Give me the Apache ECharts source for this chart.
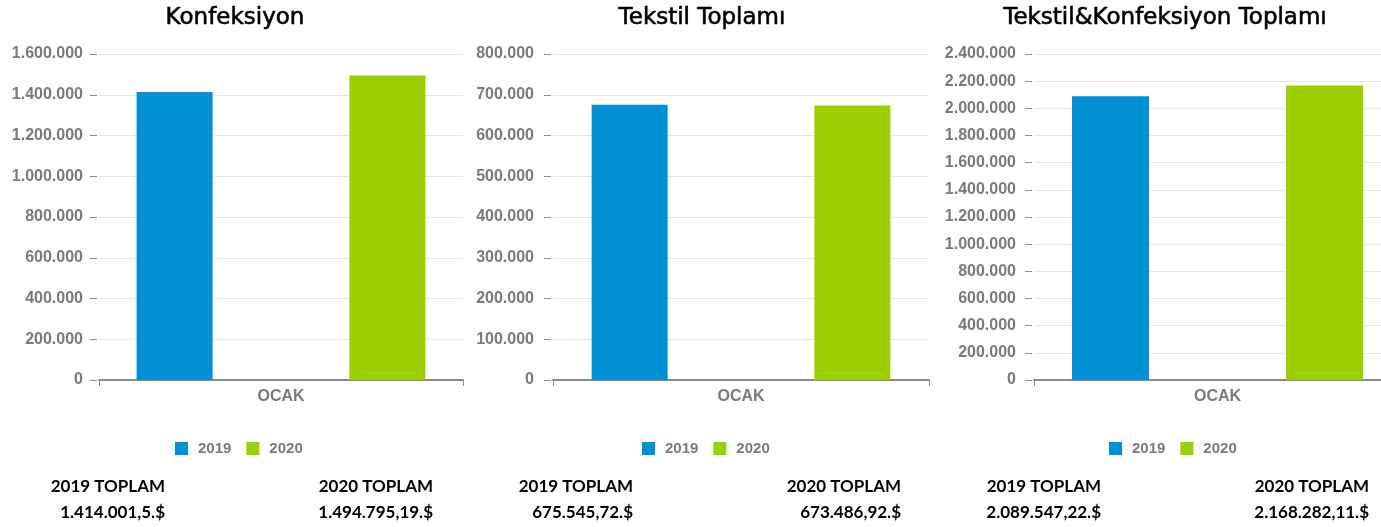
<!DOCTYPE html>
<html>
<head>
<meta charset="utf-8">
<script src="https://cdn.jsdelivr.net/npm/echarts@6/dist/echarts.min.js"></script>
<style>
  html, body { margin: 0; padding: 0; background: #fff; }
  #chart { width: 1381px; height: 527px; }
</style>
</head>
<body>
<div id="chart"></div>
<script>
// veriler
var categories = ['OCAK'];
var seriesNames = ['2019', '2020'];
var panelTitles = ['Konfeksiyon', 'Tekstil Toplamı', 'Tekstil&Konfeksiyon Toplamı'];
var values2019 = [1414001.5, 675545.72, 2089547.22];
var values2020 = [1494795.19, 673486.92, 2168282.11];
var axisMax = [1600000, 800000, 2400000];
var axisInterval = [200000, 100000, 200000];
var totalLabels2019 = ['1.414.001,5.$', '675.545,72.$', '2.089.547,22.$'];
var totalLabels2020 = ['1.494.795,19.$', '673.486,92.$', '2.168.282,11.$'];

var colors = ['#0090d5', '#9ccf00'];
var panelX = [0, 468, 936];
var titleX = [235, 702, 1165];
var gridLeft = [99, 553, 1034];
var gridWidth = [364, 376, 367];
var barWidths = [76, 76, 77];
var barGaps = ['180%', '193%', '178%'];
var labelMargin = [14, 17, 16];

function fmt(v) {
  return String(v).replace(/\B(?=(\d{3})+(?!\d))/g, '.');
}

var grids = [], xAxes = [], yAxes = [], series = [], legends = [], graphics = [];
for (var i = 0; i < 3; i++) {
  grids.push({ left: gridLeft[i], width: gridWidth[i], top: 54, bottom: 147, outerBoundsMode: 'none', containLabel: false });
  xAxes.push({
    type: 'category', gridIndex: i, data: categories,
    axisLine: { lineStyle: { color: '#8a8a8a', width: 2 } },
    axisTick: { show: true, length: 6, lineStyle: { color: '#8a8a8a' } },
    axisLabel: { color: '#7a7a7a', fontWeight: 'bold', fontSize: 16, fontFamily: 'Liberation Sans', margin: 9 }
  });
  yAxes.push({
    type: 'value', gridIndex: i, min: 0, max: axisMax[i], interval: axisInterval[i], offset: 2,
    axisLine: { show: false },
    axisTick: { show: true, length: 7, lineStyle: { color: '#8a8a8a' } },
    splitLine: { lineStyle: { color: '#e6e6e6' } },
    axisLabel: { color: '#7a7a7a', fontWeight: 'bold', fontSize: 16, fontFamily: 'Liberation Sans',
      margin: labelMargin[i], formatter: fmt }
  });
  series.push({ name: seriesNames[0], type: 'bar', xAxisIndex: i, yAxisIndex: i, data: [values2019[i]],
    barWidth: barWidths[i], barGap: barGaps[i], itemStyle: { color: colors[0] } });
  series.push({ name: seriesNames[1], type: 'bar', xAxisIndex: i, yAxisIndex: i, data: [values2020[i]],
    barWidth: barWidths[i], barGap: barGaps[i], itemStyle: { color: colors[1] } });
  legends.push({
    data: seriesNames, left: [175, 642, 1109][i], top: 441, padding: 0, itemWidth: 13, itemHeight: 13, itemGap: 15,
    icon: 'rect',
    textStyle: { color: '#7a7a7a', fontWeight: 'bold', fontSize: 15, fontFamily: 'Liberation Sans', padding: [0, 0, 0, 5] }
  });
  graphics.push({ type: 'text', x: titleX[i], y: 18,
    style: { text: panelTitles[i], fill: '#000', stroke: '#000', lineWidth: 0.6,
      font: '23px "DejaVu Sans"', textAlign: 'center', textVerticalAlign: 'middle' } });
  var bold = 'bold 17px Lato';
  graphics.push({ type: 'text', x: panelX[i] + 165, y: 487,
    style: { text: seriesNames[0] + ' TOPLAM', fill: '#000', font: bold, textAlign: 'right', textVerticalAlign: 'middle' } });
  graphics.push({ type: 'text', x: panelX[i] + 165, y: 513,
    style: { text: totalLabels2019[i], fill: '#000', font: bold, textAlign: 'right', textVerticalAlign: 'middle' } });
  graphics.push({ type: 'text', x: panelX[i] + 433, y: 487,
    style: { text: seriesNames[1] + ' TOPLAM', fill: '#000', font: bold, textAlign: 'right', textVerticalAlign: 'middle' } });
  graphics.push({ type: 'text', x: panelX[i] + 433, y: 513,
    style: { text: totalLabels2020[i], fill: '#000', font: bold, textAlign: 'right', textVerticalAlign: 'middle' } });
}

var myChart = echarts.init(document.getElementById('chart'));
myChart.setOption({
  animation: false,
  grid: grids,
  xAxis: xAxes,
  yAxis: yAxes,
  legend: legends,
  series: series,
  graphic: graphics
});
</script>
</body>
</html>
